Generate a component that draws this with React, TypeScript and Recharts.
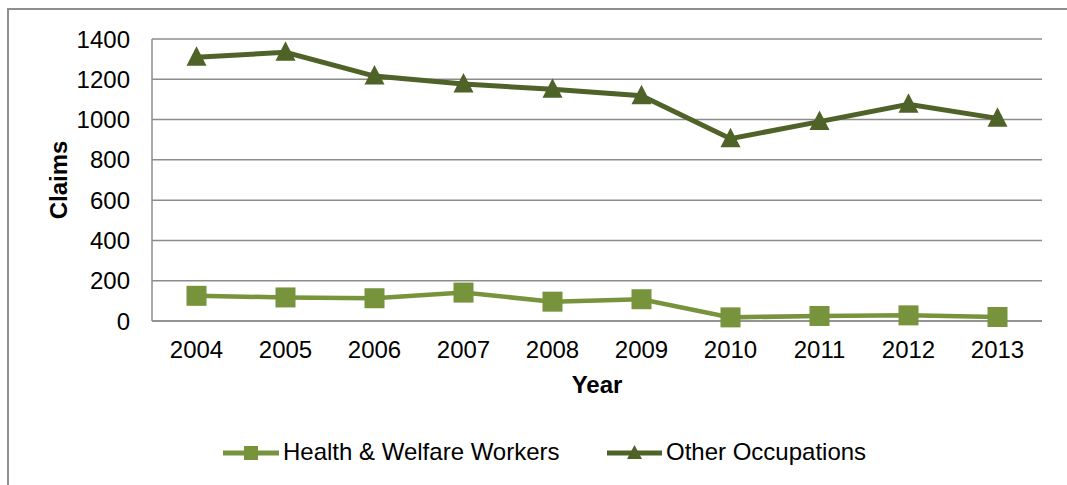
import { CartesianGrid, Label, Line, LineChart, XAxis, YAxis } from "recharts"

const years = ["2004", "2005", "2006", "2007", "2008", "2009", "2010", "2011", "2012", "2013"]
const healthWelfare = [125, 117, 113, 141, 96, 108, 18, 25, 28, 20]
const otherOccupations = [1310, 1334, 1216, 1177, 1150, 1118, 905, 990, 1076, 1006]
const claimTicks = [0, 200, 400, 600, 800, 1000, 1200, 1400]

const seriesNames = ["Health & Welfare Workers", "Other Occupations"]
const lightGreen = "#77933C"
const darkGreen = "#4F6228"
const gridGray = "#8c8c8c"
const font = "'Liberation Sans', Arial, sans-serif"
const textSize = 24

const data = years.map((year, i) => ({
	year,
	health: healthWelfare[i],
	other: otherOccupations[i],
}))

function SquareDot(props: any) {
	const { cx, cy } = props
	if (cx == null || cy == null) return null
	return <rect x={cx - 10} y={cy - 10} width={20} height={20} fill={lightGreen} />
}

function TriangleDot(props: any) {
	const { cx, cy } = props
	if (cx == null || cy == null) return null
	return (
		<polygon
			points={`${cx},${cy - 11} ${cx + 10},${cy + 8.5} ${cx - 10},${cy + 8.5}`}
			fill={darkGreen}
		/>
	)
}

function YTitle(props: any) {
	const { viewBox } = props
	const x = viewBox.x + 66.5
	const y = viewBox.y + viewBox.height / 2
	return (
		<text
			x={x}
			y={y}
			transform={`rotate(-90, ${x}, ${y})`}
			textAnchor="middle"
			fontWeight="bold"
			fontSize={textSize}
			fill="#000"
			fontFamily={font}
		>
			Claims
		</text>
	)
}

function XTitle(props: any) {
	const { viewBox } = props
	return (
		<text
			x={viewBox.x + viewBox.width / 2}
			y={viewBox.y + 72}
			textAnchor="middle"
			fontWeight="bold"
			fontSize={textSize}
			fill="#000"
			fontFamily={font}
		>
			Year
		</text>
	)
}

function ChartLegend() {
	return (
		<svg
			width={1067}
			height={50}
			style={{ position: "absolute", left: 0, top: 430 }}
		>
			<line x1={223} y1={23} x2={279} y2={23} stroke={lightGreen} strokeWidth={5} />
			<rect x={244} y={16} width={14} height={14} fill={lightGreen} />
			<text x={283} y={30} fontSize={textSize} fill="#000" fontFamily={font}>
				{seriesNames[0]}
			</text>
			<line x1={607} y1={23} x2={662} y2={23} stroke={darkGreen} strokeWidth={5} />
			<polygon points="634.5,15 642,29 627,29" fill={darkGreen} />
			<text x={666} y={30} fontSize={textSize} fill="#000" fontFamily={font}>
				{seriesNames[1]}
			</text>
		</svg>
	)
}

export default function App() {
	return (
		<div
			style={{
				position: "absolute",
				left: 0,
				top: 0,
				width: 1067,
				height: 485,
				overflow: "hidden",
				background: "#fff",
				fontFamily: font,
			}}
		>
			<div
				style={{
					position: "absolute",
					left: 7,
					top: 8,
					width: 1120,
					height: 520,
					borderLeft: "2px solid #8e8e8e",
					borderTop: "2px solid #8e8e8e",
				}}
			/>
			<div style={{ position: "absolute", left: 0, top: 0 }}>
				<LineChart
					width={1067}
					height={485}
					data={data}
					margin={{ top: 39, right: 25, left: 0, bottom: 0 }}
				>
					<CartesianGrid vertical={false} stroke={gridGray} strokeWidth={1.5} />
					<XAxis
						dataKey="year"
						height={164}
						interval={0}
						padding={{ left: 44.5, right: 44.5 }}
						axisLine={{ stroke: gridGray, strokeWidth: 1.5 }}
						tickLine={false}
						tickSize={0}
						tickMargin={20}
						tick={{ fill: "#000", fontSize: textSize, fontFamily: font }}
					>
						<Label content={<XTitle />} />
					</XAxis>
					<YAxis
						width={152}
						domain={[0, 1400]}
						ticks={claimTicks}
						interval={0}
						axisLine={{ stroke: gridGray, strokeWidth: 1.5 }}
						tickLine={false}
						tickSize={0}
						tickMargin={22}
						tick={{ fill: "#000", fontSize: textSize, fontFamily: font }}
					>
						<Label content={<YTitle />} />
					</YAxis>
					<Line
						dataKey="health"
						name={seriesNames[0]}
						stroke={lightGreen}
						strokeWidth={4.5}
						dot={<SquareDot />}
						activeDot={false}
						isAnimationActive={false}
					/>
					<Line
						dataKey="other"
						name={seriesNames[1]}
						stroke={darkGreen}
						strokeWidth={5}
						dot={<TriangleDot />}
						activeDot={false}
						isAnimationActive={false}
					/>
				</LineChart>
			</div>
			<ChartLegend />
		</div>
	)
}
